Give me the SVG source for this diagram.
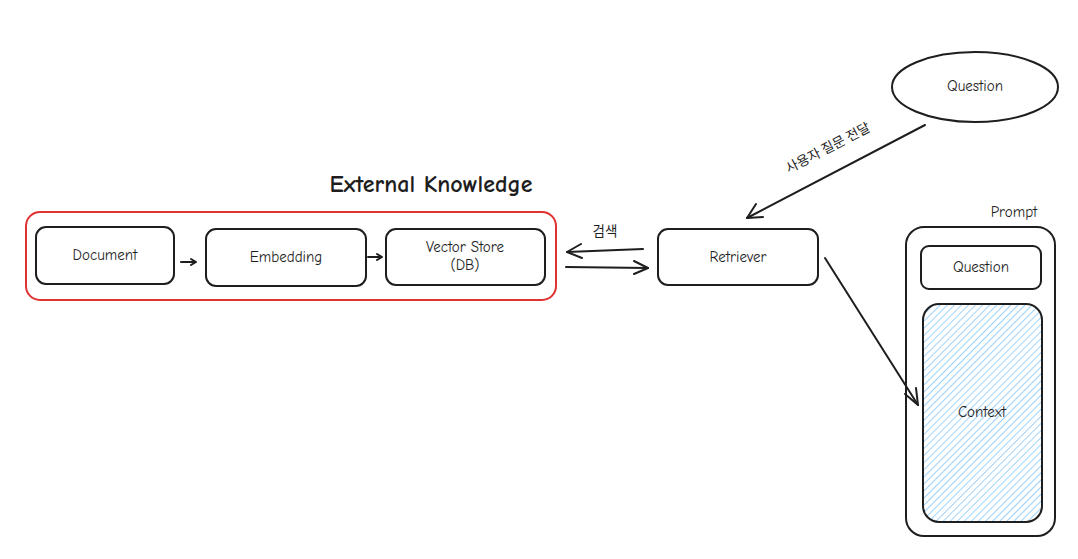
<svg xmlns="http://www.w3.org/2000/svg" width="1078" height="559" viewBox="0 0 1078 559">
<defs>
<style>
.box{fill:#fff;stroke:#1e1e1e;stroke-width:2}
.lbl{font-family:"Comic Neue","Liberation Sans","Noto Sans CJK KR",sans-serif;font-size:15px;fill:#1e1e1e;text-anchor:middle}
.kr{font-family:"Noto Sans CJK KR",sans-serif;font-size:13.5px;fill:#1e1e1e;text-anchor:middle}
.edge{fill:none;stroke:#1e1e1e;stroke-width:2;stroke-linecap:round}
.head{fill:none;stroke:#1e1e1e;stroke-width:2;stroke-linecap:round;stroke-linejoin:round}
</style>
<pattern id="hatch" patternUnits="userSpaceOnUse" width="5" height="5" patternTransform="rotate(45)">
<rect width="5" height="5" fill="#fff"/>
<line x1="0" y1="0" x2="0" y2="5" stroke="#74c0fc" stroke-width="1.4"/>
</pattern>
</defs>
<rect width="1078" height="559" fill="#fff"/>

<g id="external-knowledge">
<rect x="26" y="212" width="530" height="88" rx="14" fill="none" stroke="#e03131" stroke-width="2"/>
<text x="431" y="192" style="font-family:'Comic Neue','Liberation Sans',sans-serif;font-size:24px;font-weight:bold;fill:#1e1e1e" text-anchor="middle">External Knowledge</text>
</g>

<g id="document">
<rect class="box" x="36" y="227" width="138" height="57" rx="10"/>
<text class="lbl" x="105" y="260">Document</text>
</g>
<g id="embedding">
<rect class="box" x="206" y="229" width="160" height="57" rx="10"/>
<text class="lbl" x="286" y="262">Embedding</text>
</g>
<g id="vector-store">
<rect class="box" x="386" y="229" width="159" height="56" rx="10"/>
<text class="lbl" x="465" y="252">Vector Store</text>
<text class="lbl" x="465" y="270">(DB)</text>
</g>
<g id="retriever">
<rect class="box" x="658" y="229" width="160" height="56" rx="10"/>
<text class="lbl" x="738" y="262">Retriever</text>
</g>
<g id="question">
<ellipse class="box" cx="975" cy="87" rx="83" ry="35"/>
<text class="lbl" x="975" y="91">Question</text>
</g>
<g id="prompt">
<rect class="box" x="906" y="227" width="149" height="309" rx="18"/>
<text class="lbl" x="1014" y="217">Prompt</text>
</g>
<g id="prompt-question">
<rect class="box" x="921" y="246" width="120" height="43" rx="8"/>
<text class="lbl" x="981" y="272">Question</text>
</g>
<g id="context">
<rect x="923" y="304" width="119" height="218" rx="16" fill="url(#hatch)" stroke="#1e1e1e" stroke-width="2"/>
<text class="lbl" x="982" y="417">Context</text>
</g>

<g id="connectors">
<path class="edge" d="M181 262 L195 262"/>
<path class="head" d="M191 259 L196 262 L191 265"/>
<path class="edge" d="M368 257 L381 257"/>
<path class="head" d="M377 254 L382 257 L377 260"/>
<path class="edge" d="M643 249 L567 252"/>
<path class="head" d="M581 244 L567 252 L582 258"/>
<path class="edge" d="M566 267 L648 268"/>
<path class="head" d="M634 261 L648 268 L634 274"/>
<text class="kr" x="605" y="236">검색</text>
<path class="edge" d="M925 125 L747 218"/>
<path class="head" d="M756 204 L747 218 L763 217"/>
<text class="kr" transform="translate(830 152) rotate(-27.5)" x="0" y="0">사용자 질문 전달</text>
<path class="edge" d="M825 258 L918 405"/>
<path class="head" d="M905 394 L918 405 L916 388"/>
</g>
</svg>
